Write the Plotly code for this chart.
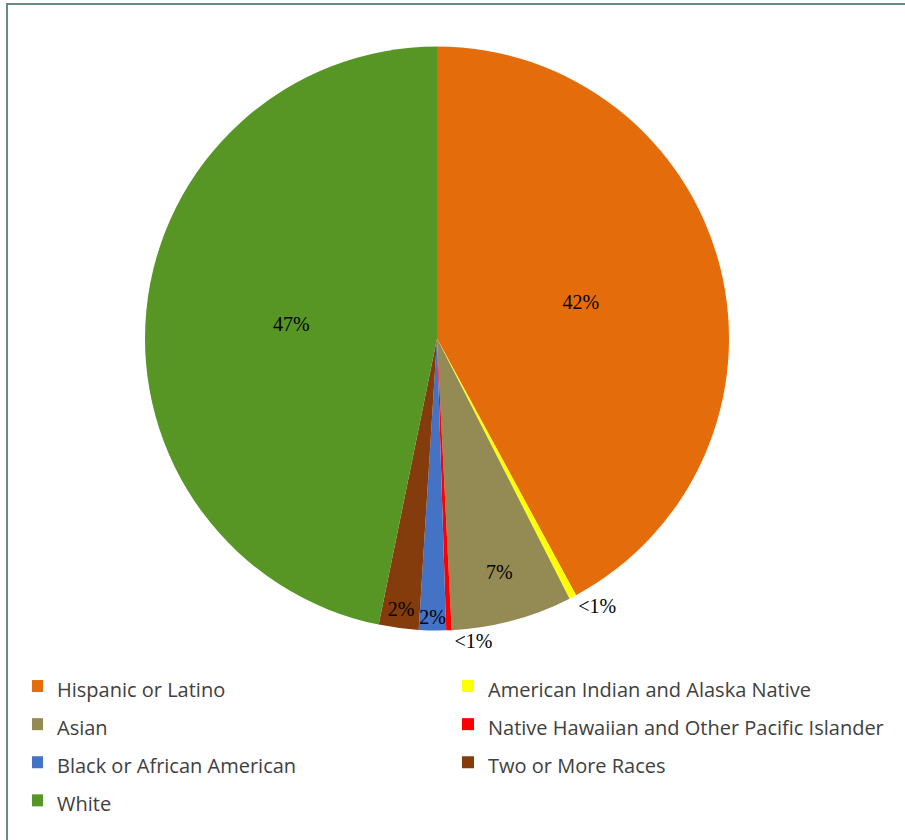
import plotly.graph_objects as go

categories = ["Hispanic or Latino", "American Indian and Alaska Native", "Asian",
              "Native Hawaiian and Other Pacific Islander", "Black or African American",
              "Two or More Races", "White"]
values = [42.1, 0.4, 6.7, 0.3, 1.5, 2.2, 46.8]
value_labels = ["42%", "<1%", "7%", "<1%", "2%", "2%", "47%"]
colors = ["#E46C0A", "#FFFF00", "#948A54", "#FF0000", "#4472C4", "#843C0C", "#579525"]
text_pos = ["inside", "outside", "inside", "outside", "inside", "inside", "inside"]

W, H = 905, 840
legend_labels = ['<span style="font-size:20px">%s</span>' % c for c in categories]

fig = go.Figure(go.Pie(
    labels=legend_labels,
    values=values,
    text=value_labels,
    textinfo="text",
    textposition=text_pos,
    insidetextorientation="horizontal",
    textfont=dict(family="Liberation Serif", size=20, color="black"),
    marker=dict(colors=colors, line=dict(width=0)),
    sort=False,
    direction="clockwise",
    rotation=0,
    domain=dict(x=[145 / W, 729 / W], y=[1 - 631 / H, 1 - 46 / H]),
    hoverinfo="label+percent",
))

fig.update_layout(
    width=W, height=H,
    margin=dict(l=0, r=0, t=0, b=0),
    paper_bgcolor="white",
    showlegend=True,
    uniformtext=dict(minsize=20, mode="show"),
    legend=dict(
        orientation="h",
        x=32 / W, xanchor="left",
        y=1 - 662 / H, yanchor="top",
        entrywidth=401, entrywidthmode="pixels",
        indentation=-15,
        font=dict(family="Open Sans", size=27, color="#404040"),
        traceorder="normal",
    ),
    shapes=[
        dict(type="line", xref="paper", yref="paper", x0=6 / W, x1=1, y0=1 - 4 / H, y1=1 - 4 / H,
             line=dict(color="#6B8A7F", width=2)),
        dict(type="line", xref="paper", yref="paper", x0=7 / W, x1=7 / W, y0=0, y1=1 - 3 / H,
             line=dict(color="#6B8A7F", width=2)),
    ],
)

fig.write_html("out.html", config={"displayModeBar": False},
               post_script="document.body.style.margin='0';")
